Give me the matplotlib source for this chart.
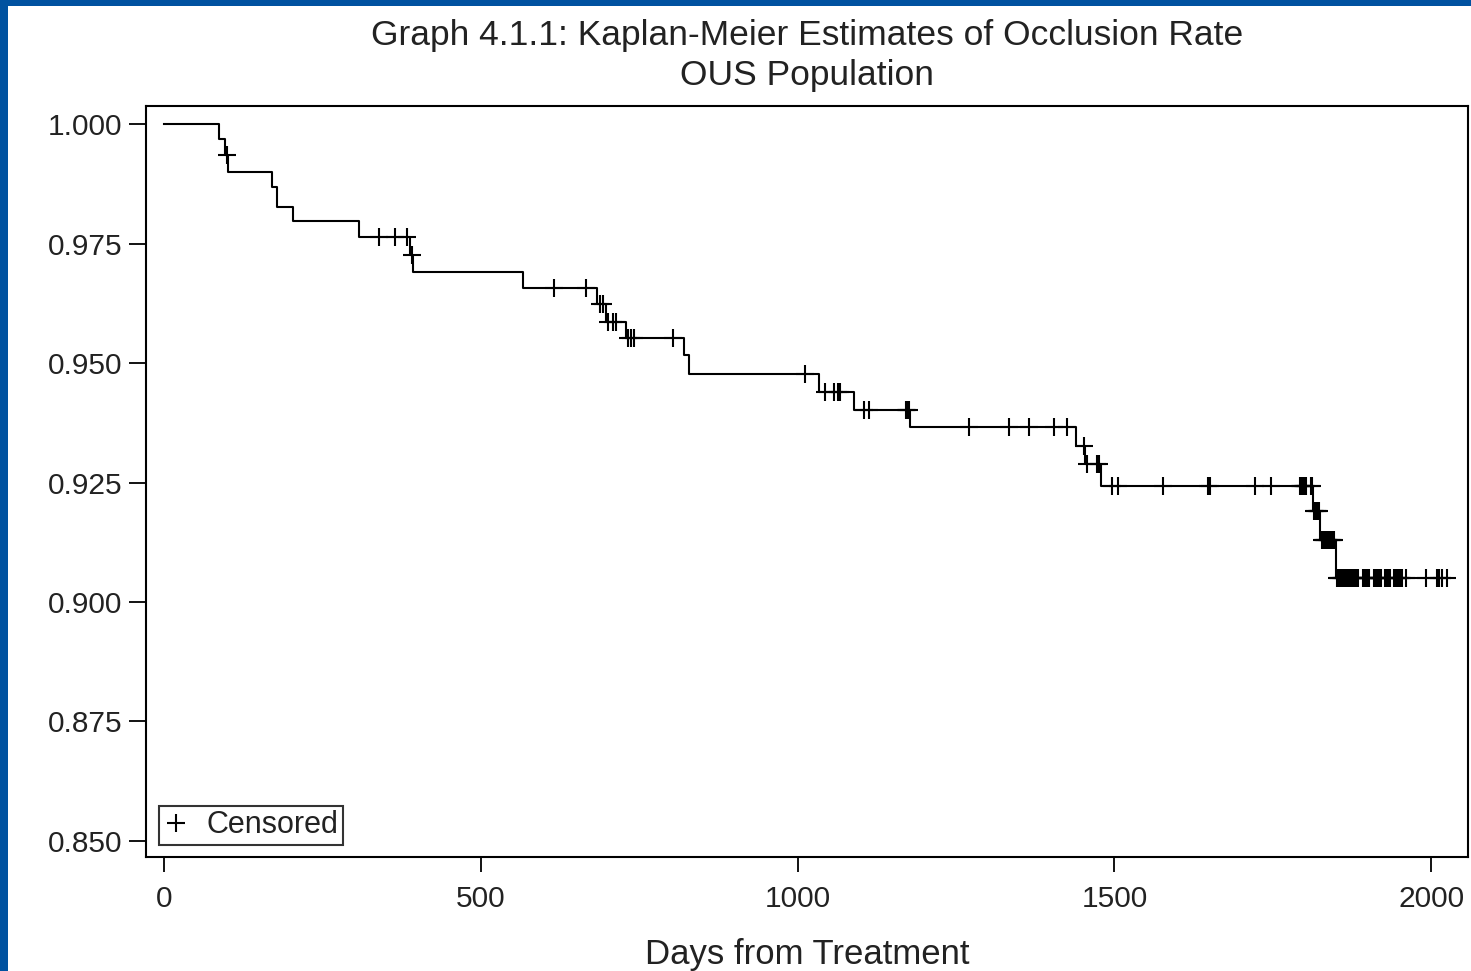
import matplotlib
matplotlib.use("Agg")
import matplotlib.pyplot as plt
import numpy as np
from matplotlib.patches import Rectangle

plt.rcParams['font.family'] = ['Liberation Sans', 'DejaVu Sans']

# Kaplan-Meier step data (event day, survival after event)
event_days = [87, 96, 101, 171, 178, 203, 308, 389, 393, 566, 683, 697, 729,
              820, 828, 1033, 1089, 1177, 1439, 1454, 1479, 1814, 1825, 1850]
event_surv = [0.9968, 0.9935, 0.9900, 0.9868, 0.9827, 0.9798, 0.9763, 0.9727,
              0.9691, 0.9656, 0.9623, 0.9586, 0.9552, 0.9516, 0.9476, 0.9440,
              0.9402, 0.9367, 0.9327, 0.9288, 0.9243, 0.9190, 0.9130, 0.9050]
end_day = 2030

# Censored days
censor_days = [100, 339, 364, 383, 391, 616, 666, 688, 693, 700, 708, 714,
               732, 737, 741, 803, 1011, 1043, 1057, 1064, 1067, 1104, 1113,
               1171, 1173, 1175, 1271, 1333, 1365, 1405, 1425, 1452, 1456,
               1472, 1475, 1496, 1506, 1577, 1648, 1651, 1722, 1747,
               1793, 1795, 1797, 1799, 1801, 1803, 1810, 1812,
               1815, 1817, 1819, 1821, 1823,
               1827, 1829, 1831, 1833, 1835, 1837, 1839, 1841, 1843, 1845, 1847,
               1851, 1853, 1855, 1857, 1859, 1861, 1863, 1865, 1867, 1869, 1871,
               1873, 1875, 1877, 1879, 1881, 1883, 1885,
               1892, 1894, 1896, 1898, 1900, 1902,
               1909, 1911, 1913, 1915, 1917, 1919, 1921,
               1927, 1929, 1931, 1933, 1935,
               1942, 1944, 1946, 1948, 1950, 1952, 1954,
               1960, 1991, 2009, 2013, 2017, 2025]

yticks = [0.850, 0.875, 0.900, 0.925, 0.950, 0.975, 1.000]
xticks = [0, 500, 1000, 1500, 2000]

title1 = "Graph 4.1.1: Kaplan-Meier Estimates of Occlusion Rate"
title2 = "OUS Population"
xlabel = "Days from Treatment"

fig = plt.figure(figsize=(14.71, 9.71), dpi=100)
fig.patch.set_facecolor('white')
blue = '#0052A0'
fig.patches.append(Rectangle((0, 0), 8/1471, 1, transform=fig.transFigure,
                             facecolor=blue, edgecolor='none', zorder=0))
fig.patches.append(Rectangle((0, 1-6/971), 1, 6/971, transform=fig.transFigure,
                             facecolor=blue, edgecolor='none', zorder=0))

ax = fig.add_axes([146/1471, 1-857/971, (1468-146)/1471, (857-106)/971])

xs = [0] + event_days + [end_day]
ys = [1.0] + event_surv + [event_surv[-1]]
ax.step(xs, ys, where='post', color='black', lw=1.5)

ev = np.array(event_days)
sv = np.array(event_surv)
def surv_at(t):
    idx = np.searchsorted(ev, t, side='right') - 1
    return 1.0 if idx < 0 else sv[idx]
cy = [surv_at(t) for t in censor_days]
ax.plot(censor_days, cy, linestyle='none', marker='+', markersize=12.5,
        markeredgewidth=1.5, color='black', label='Censored')

ax.set_xlim(-28.4, 2058)
ax.set_ylim(0.84665, 1.00377)
ax.set_xticks(xticks)
ax.set_yticks(yticks)
ax.set_yticklabels([f"{v:.3f}" for v in yticks])
for s in ax.spines.values():
    s.set_linewidth(1.5)
ax.tick_params(axis='both', direction='out', width=1.3, labelsize=21.5,
               colors='black', labelcolor='#222222')
ax.tick_params(axis='y', length=12, pad=5)
ax.tick_params(axis='x', length=11, pad=9)

ax.set_xlabel(xlabel, fontsize=25, color='#222222', labelpad=18)
fig.text(807/1471, 1-35/971, title1,
         ha='center', va='center', fontsize=25.5, color='#222222')
fig.text(807/1471, 1-75/971, title2,
         ha='center', va='center', fontsize=25.5, color='#222222')

leg = ax.legend(loc='lower left', fontsize=22, frameon=True, fancybox=False,
                handlelength=0.8, handletextpad=0.6, borderpad=0.15,
                bbox_to_anchor=(0.010, 0.016), borderaxespad=0)
leg.get_frame().set_edgecolor('black')
leg.get_frame().set_linewidth(1.5)
for t in leg.get_texts():
    t.set_color('#222222')

fig.savefig('out.png', dpi=100)
